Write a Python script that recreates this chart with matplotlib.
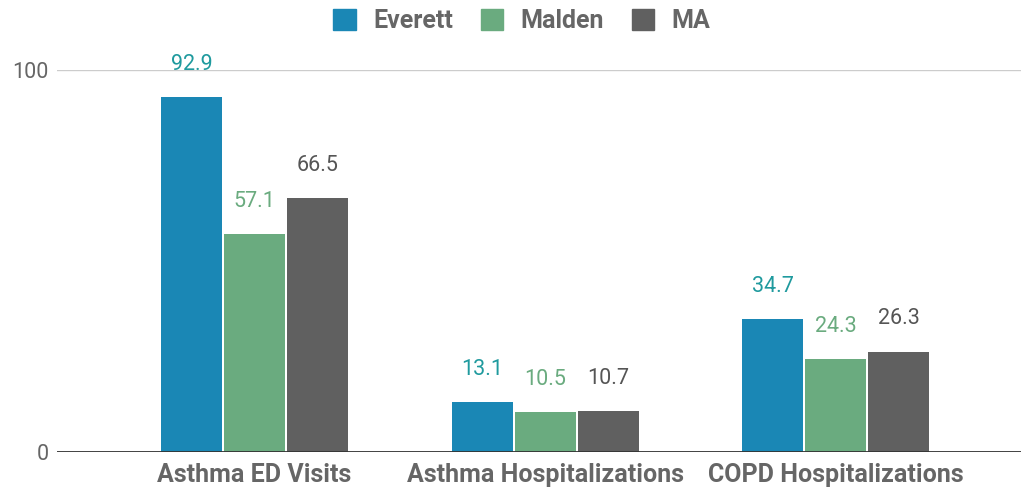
import numpy as np
import matplotlib
matplotlib.use('Agg')
import matplotlib.pyplot as plt
from matplotlib.patches import Patch

categories = ['Asthma ED Visits', 'Asthma Hospitalizations', 'COPD Hospitalizations']
series = ['Everett', 'Malden', 'MA']
everett = [92.9, 13.1, 34.7]
malden = [57.1, 10.5, 24.3]
ma = [66.5, 10.7, 26.3]
values = [everett, malden, ma]

bar_colors = ['#1a87b5', '#6aab7f', '#606060']
label_colors = ['#1f9a9e', '#6aab7f', '#555555']

plt.rcParams['font.family'] = ['Roboto', 'DejaVu Sans']

fig = plt.figure(figsize=(10.21, 4.92), dpi=100)
ax = fig.add_axes([57 / 1021, 40 / 492, 964 / 1021, 382 / 492])

x = np.arange(len(categories))
w = 0.21
step = 0.217
for i, (name, vals) in enumerate(zip(series, values)):
    xs = x + (i - 1) * step
    ax.bar(xs, vals, width=w, color=bar_colors[i], zorder=3)
    for xi, v in zip(xs, vals):
        ax.annotate(f'{v:.1f}', (xi, v), xytext=(0, 16), textcoords='offset points',
                    ha='center', va='bottom', fontsize=15.5, color=label_colors[i],
                    annotation_clip=False)

ax.set_xlim(-0.68, 2.637)
ax.set_ylim(0, 100)
ax.set_yticks([0, 100])
ax.set_yticklabels(['0', '100'])
ax.axhline(100, color='#cccccc', lw=1, zorder=1)
ax.axhline(0, color='#333333', lw=1.3, zorder=4)
for s in ax.spines.values():
    s.set_visible(False)
ax.tick_params(axis='y', length=0, pad=6, labelsize=15.5, labelcolor='#666666')
ax.tick_params(axis='x', length=0, pad=8)
ax.set_xticks(x)
ax.set_xticklabels(categories, fontsize=18, fontweight='bold', color='#666666')

handles = [Patch(color=c, label=s) for c, s in zip(bar_colors, series)]
leg = fig.legend(handles=handles, loc='center', bbox_to_anchor=(522 / 1021, 1 - 21 / 492),
                 ncol=3, frameon=False, handlelength=0.9, handleheight=0.9,
                 columnspacing=1.1, handletextpad=0.7,
                 prop={'weight': 'bold', 'size': 18})
for t in leg.get_texts():
    t.set_color('#666666')

fig.savefig('out.png', dpi=100)
